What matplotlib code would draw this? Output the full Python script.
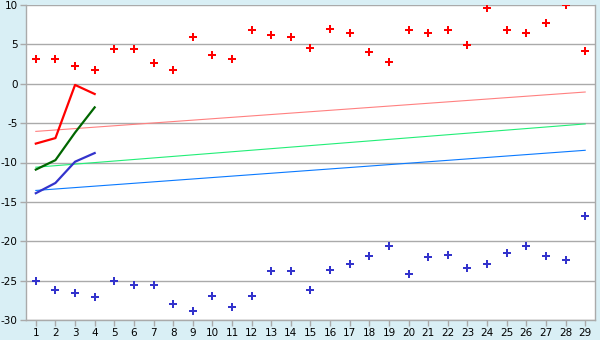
import matplotlib
matplotlib.use("Agg")
import matplotlib.pyplot as plt
import numpy as np

plt.rcParams["axes.unicode_minus"] = False

# x categories
x = np.arange(1, 30)

# scatter series (upper red, lower blue)
red_pts = [3.2, 3.1, 2.2, 1.7, 4.4, 4.4, 2.6, 1.7, 6.0, 3.6,
           3.1, 6.8, 6.2, 6.0, 4.6, 6.9, 6.5, 4.0, 2.7, 6.8,
           6.4, 6.8, 4.9, 9.6, 6.8, 6.5, 7.7, 10.0, 4.1]
blue_pts = [-25.0, -26.2, -26.6, -27.1, -25.1, -25.6, -25.6, -28.0, -28.9, -26.9,
            -28.3, -26.9, -23.8, -23.8, -26.2, -23.6, -22.9, -21.9, -20.6, -24.2,
            -22.0, -21.7, -23.4, -22.9, -21.5, -20.6, -21.9, -22.4, -16.8]

# short thick lines over the first four points
x_short = [1, 2, 3, 4]
red_line = [-7.6, -6.9, -0.15, -1.3]
green_line = [-10.9, -9.7, -6.2, -3.0]
blue_line = [-13.9, -12.6, -9.9, -8.8]

# thin trend lines (start and end values)
x_trend = [1, 29]
pink_trend = [-6.05, -1.05]
lgreen_trend = [-10.6, -5.1]
lblue_trend = [-13.55, -8.45]

y_ticks = [-30, -25, -20, -15, -10, -5, 0, 5, 10]

bg = "#d9eff5"
grid_c = "#aaaaaa"

fig = plt.figure(figsize=(6, 3.4), dpi=100, facecolor=bg)
ax = fig.add_axes([26 / 600, 20 / 340, 569 / 600, 315 / 340])
ax.set_facecolor("white")

for v in y_ticks:
    ax.axhline(v, color=grid_c, lw=1.0, zorder=1)

ax.plot(x_trend, pink_trend, color="#ff8080", lw=0.8, zorder=2)
ax.plot(x_trend, lgreen_trend, color="#22ee77", lw=0.8, zorder=2)
ax.plot(x_trend, lblue_trend, color="#0a7aff", lw=0.8, zorder=2)

ax.plot(x_short, red_line, color="#ff0000", lw=1.6, zorder=3)
ax.plot(x_short, green_line, color="#006600", lw=1.6, zorder=3)
ax.plot(x_short, blue_line, color="#3333cc", lw=1.6, zorder=3)

# chunky plus-shaped markers
ax.plot(x, red_pts, ls="none", marker="P", ms=6, color="#ff0000", mew=0, zorder=4)
ax.plot(x, blue_pts, ls="none", marker="P", ms=6, color="#3333cc", mew=0, zorder=4)

ax.set_xlim(0.5, 29.5)
ax.set_ylim(-30, 10)
ax.set_xticks(x)
ax.set_yticks(y_ticks)
ax.tick_params(axis="both", colors=grid_c, labelcolor="black", labelsize=7.5,
               length=4, width=1)
ax.tick_params(axis="x", pad=2)
ax.tick_params(axis="y", pad=2)

for s in ["left", "bottom", "right"]:
    ax.spines[s].set_color(grid_c)
    ax.spines[s].set_linewidth(1)
ax.spines["top"].set_visible(False)

fig.savefig("out.png", dpi=100, facecolor=bg)
